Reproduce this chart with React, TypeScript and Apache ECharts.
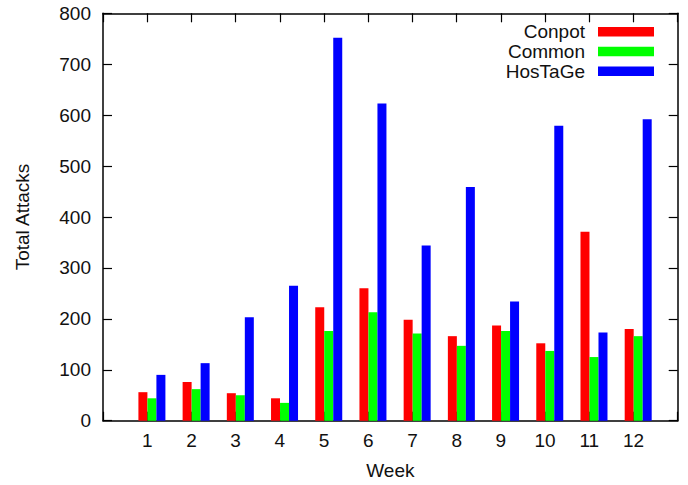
import React, { useEffect, useRef } from "react";
import * as echarts from "echarts";

const weeks = ["1", "2", "3", "4", "5", "6", "7", "8", "9", "10", "11", "12"];
const conpot = [56, 76, 54, 44, 223, 260, 198, 166, 187, 152, 371, 180];
const common = [44, 62, 50, 35, 176, 213, 171, 147, 176, 137, 125, 166];
const hostage = [90, 113, 203, 265, 752, 623, 344, 459, 234, 579, 173, 592];
const yTicks = { min: 0, max: 800, interval: 100 };

const FONT = "'Liberation Sans', Arial, Helvetica, sans-serif";
const TEXT = "#111";

export default function App() {
  const ref = useRef<HTMLDivElement>(null);
  useEffect(() => {
    if (!ref.current) return;
    const chart = echarts.init(ref.current, undefined, { renderer: "svg" });
    // hidden category axis with a slot before the first and after the last week
    const slots = ["", ...weeks, ""];
    const pad = (arr: number[]) => [null, ...arr, null];
    const L = 103, R = 10.3, T = 13.3, B = 64.3, SHIFT = 4.7;
    const axisLine = { show: true, onZero: false, lineStyle: { color: "#000", width: 1.5 } };
    const ticksIn = { show: true, inside: true, length: 9, lineStyle: { color: "#000", width: 1.2 } };
    chart.setOption({
      animation: false,
      backgroundColor: "#fff",
      textStyle: { fontFamily: FONT },
      grid: [
        { left: L, right: R, top: T, bottom: B, show: false },
        { left: L + SHIFT, right: R - SHIFT, top: T, bottom: B, show: false },
      ],
      legend: {
        orient: "vertical",
        right: 34,
        top: 22,
        padding: 0,
        align: "right",
        itemWidth: 56,
        itemHeight: 9.5,
        itemGap: 0,
        icon: "rect",
        selectedMode: false,
        textStyle: {
          fontFamily: FONT,
          fontSize: 19,
          color: TEXT,
          lineHeight: 19.7,
          padding: [0, 8, 0, 0],
        },
        data: ["Conpot", "Common", "HosTaGe"],
      },
      xAxis: [
        {
          type: "value",
          gridIndex: 0,
          min: 0,
          max: weeks.length + 1,
          interval: 1,
          position: "bottom",
          name: "Week",
          nameLocation: "middle",
          nameGap: 40,
          nameTextStyle: { fontFamily: FONT, fontSize: 19, color: TEXT },
          axisLine,
          axisTick: ticksIn,
          splitLine: { show: false },
          axisLabel: {
            fontFamily: FONT,
            fontSize: 19,
            color: TEXT,
            margin: 10,
            formatter: (v: number) => (v >= 1 && v <= weeks.length ? weeks[v - 1] : ""),
          },
        },
        {
          type: "value",
          gridIndex: 0,
          min: 0,
          max: weeks.length + 1,
          interval: 1,
          position: "top",
          axisLine,
          axisTick: ticksIn,
          axisLabel: { show: false },
          splitLine: { show: false },
        },
        {
          type: "category",
          gridIndex: 1,
          data: slots,
          boundaryGap: false,
          show: false,
        },
      ],
      yAxis: [
        {
          type: "value",
          gridIndex: 0,
          ...yTicks,
          position: "left",
          name: "Total Attacks",
          nameLocation: "middle",
          nameGap: 71,
          nameTextStyle: { fontFamily: FONT, fontSize: 19, color: TEXT },
          axisLine,
          axisTick: ticksIn,
          splitLine: { show: false },
          axisLabel: { fontFamily: FONT, fontSize: 19, color: TEXT, margin: 12 },
        },
        {
          type: "value",
          gridIndex: 0,
          ...yTicks,
          position: "right",
          axisLine,
          axisTick: ticksIn,
          splitLine: { show: false },
          axisLabel: { show: false },
        },
        {
          type: "value",
          gridIndex: 1,
          ...yTicks,
          show: false,
          splitLine: { show: false },
        },
      ],
      series: [
        { name: "Conpot", data: pad(conpot), color: "#ff0000" },
        { name: "Common", data: pad(common), color: "#00ff00" },
        { name: "HosTaGe", data: pad(hostage), color: "#0000ff" },
      ].map((s) => ({
        ...s,
        type: "bar",
        xAxisIndex: 2,
        yAxisIndex: 2,
        barWidth: 9,
        barGap: "0%",
        itemStyle: { color: s.color },
      })),
    });
    return () => chart.dispose();
  }, []);
  return <div ref={ref} style={{ width: 688, height: 485, position: "absolute", left: 0, top: 0 }} />;
}
